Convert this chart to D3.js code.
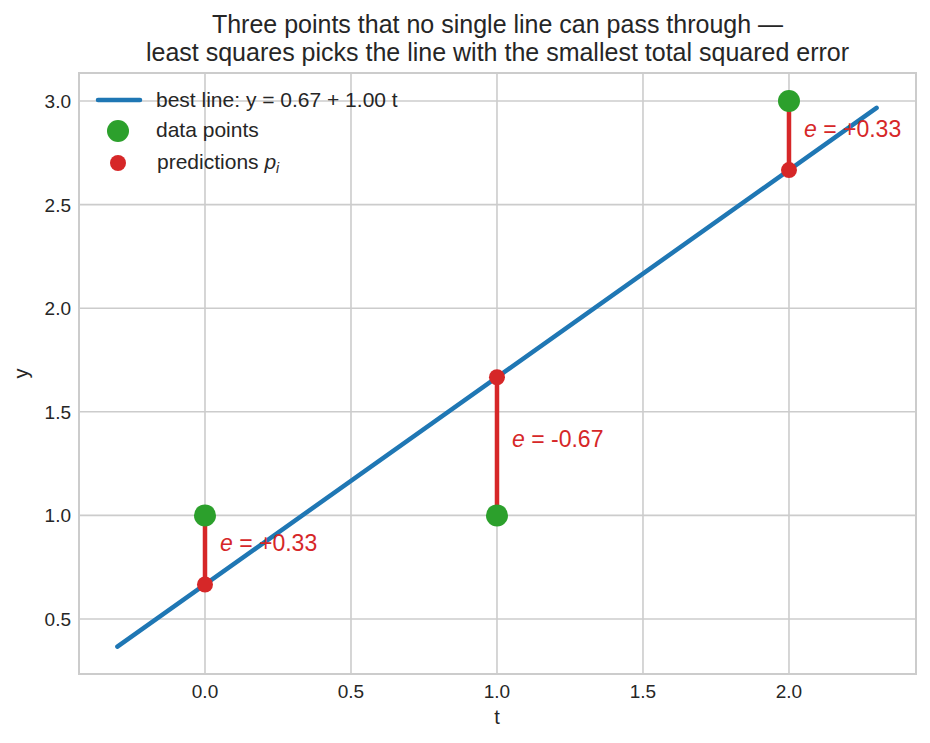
<!DOCTYPE html>
<html>
<head>
<meta charset="utf-8">
<script src="https://cdn.jsdelivr.net/npm/d3@7"></script>
<style>
  body { margin: 0; background: #fff; }
  text { font-family: "Liberation Sans", Arial, sans-serif; fill: #262626; }
</style>
</head>
<body>
<script>
// data: three points and the least squares fit
var tValues = [0, 1, 2];
var yValues = [1, 1, 3];
var intercept = 0.67, slope = 1.00;   // as printed in legend
var lineRange = [-0.3, 2.3];
var errorLabels = ["+0.33", "-0.67", "+0.33"];
var xTicks = [0, 0.5, 1, 1.5, 2];
var yTicks = [0.5, 1, 1.5, 2, 2.5, 3];

var W = 930, H = 743;
var m = {left: 79, right: 14, top: 73, bottom: 69};

var svg = d3.select("body").append("svg").attr("width", W).attr("height", H);

var x = d3.scaleLinear().domain([-0.4315, 2.435]).range([m.left, W - m.right]);
var y = d3.scaleLinear().domain([0.2346, 3.135]).range([H - m.bottom, m.top]);

var pred = function(t) { return 2 / 3 + t; };

// grid
svg.append("g").selectAll("line").data(xTicks).join("line")
  .attr("x1", d => x(d)).attr("x2", d => x(d))
  .attr("y1", m.top).attr("y2", H - m.bottom)
  .attr("stroke", "#cccccc").attr("stroke-width", 1.6);
svg.append("g").selectAll("line").data(yTicks).join("line")
  .attr("y1", d => y(d)).attr("y2", d => y(d))
  .attr("x1", m.left).attr("x2", W - m.right)
  .attr("stroke", "#cccccc").attr("stroke-width", 1.6);

// frame
svg.append("rect").attr("x", m.left).attr("y", m.top)
  .attr("width", W - m.left - m.right).attr("height", H - m.top - m.bottom)
  .attr("fill", "none").attr("stroke", "#cccccc").attr("stroke-width", 2);

// tick labels
svg.append("g").selectAll("text").data(xTicks).join("text")
  .attr("x", d => x(d)).attr("y", 698)
  .attr("text-anchor", "middle").style("font-size", "19px")
  .text(d => d.toFixed(1));
svg.append("g").selectAll("text").data(yTicks).join("text")
  .attr("x", m.left - 8).attr("y", d => y(d) + 7)
  .attr("text-anchor", "end").style("font-size", "19px")
  .text(d => d.toFixed(1));

// axis labels
svg.append("text").attr("x", x(1)).attr("y", 724).attr("text-anchor", "middle")
  .style("font-size", "20px").text("t");
svg.append("text").attr("transform", "translate(28," + ((m.top + H - m.bottom) / 2) + ") rotate(-90)")
  .attr("text-anchor", "middle").style("font-size", "20px").text("y");

// title
var title = svg.append("text").attr("text-anchor", "middle").style("font-size", "25px");
title.append("tspan").attr("x", 497.5).attr("y", 33).text("Three points that no single line can pass through \u2014");
title.append("tspan").attr("x", 497.5).attr("y", 61).text("least squares picks the line with the smallest total squared error");

// best line
svg.append("path")
  .datum(lineRange)
  .attr("d", d3.line().x(d => x(d)).y(d => y(pred(d))))
  .attr("stroke", "#1f77b4").attr("stroke-width", 4.5).attr("stroke-linecap", "round")
  .attr("fill", "none");

// error segments
svg.append("g").selectAll("line").data(tValues).join("line")
  .attr("x1", d => x(d)).attr("x2", d => x(d))
  .attr("y1", (d, i) => y(yValues[i])).attr("y2", d => y(pred(d)))
  .attr("stroke", "#d62728").attr("stroke-width", 4.5);

// data points
svg.append("g").selectAll("circle").data(tValues).join("circle")
  .attr("cx", d => x(d)).attr("cy", (d, i) => y(yValues[i]))
  .attr("r", 11).attr("fill", "#2ca02c");

// predictions
svg.append("g").selectAll("circle").data(tValues).join("circle")
  .attr("cx", d => x(d)).attr("cy", d => y(pred(d)))
  .attr("r", 8).attr("fill", "#d62728");

// error annotations
var ann = svg.append("g").selectAll("text").data(tValues).join("text")
  .attr("x", d => x(d) + 15)
  .attr("y", (d, i) => y((yValues[i] + pred(d)) / 2) + 1)
  .style("font-size", "23px");
ann.append("tspan").style("fill", "#d62728").style("font-style", "italic").text("e");
ann.append("tspan").style("fill", "#d62728").text((d, i) => " = " + errorLabels[i]);

// legend
var lg = svg.append("g");
lg.append("line").attr("x1", 98).attr("x2", 140).attr("y1", 100).attr("y2", 100)
  .attr("stroke", "#1f77b4").attr("stroke-width", 4.5).attr("stroke-linecap", "round");
lg.append("circle").attr("cx", 118).attr("cy", 131).attr("r", 11).attr("fill", "#2ca02c");
lg.append("circle").attr("cx", 118).attr("cy", 163).attr("r", 8).attr("fill", "#d62728");
lg.append("text").attr("x", 156).attr("y", 107).style("font-size", "21px")
  .text("best line: y = " + intercept.toFixed(2) + " + " + slope.toFixed(2) + " t");
lg.append("text").attr("x", 156).attr("y", 137).style("font-size", "21px").text("data points");
var pl = lg.append("text").attr("x", 157).attr("y", 169).style("font-size", "21px");
pl.append("tspan").text("predictions ");
pl.append("tspan").style("font-style", "italic").text("p");
pl.append("tspan").style("font-style", "italic").style("font-size", "14px").attr("dy", 4).text("i");
</script>
</body>
</html>
